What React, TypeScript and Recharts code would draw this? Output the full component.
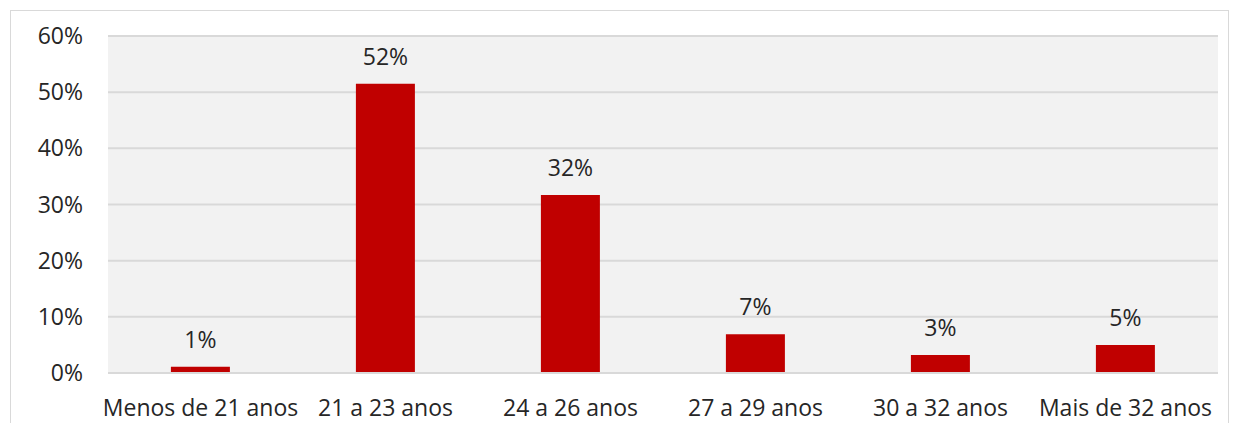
import React from 'react';
import { BarChart, Bar, XAxis, YAxis, CartesianGrid, LabelList } from 'recharts';

const categories = ['Menos de 21 anos', '21 a 23 anos', '24 a 26 anos', '27 a 29 anos', '30 a 32 anos', 'Mais de 32 anos'];
const shares = [1.1, 51.5, 31.7, 6.9, 3.2, 5.0];
const yTicks = [0, 10, 20, 30, 40, 50, 60];

const data = categories.map((name, i) => ({ name, value: shares[i] }));

const FONT = '"Open Sans", Lato, sans-serif';

const App: React.FC = () => {
  return (
    <div
      style={{
        position: 'absolute',
        left: 10,
        top: 10,
        width: 1217,
        height: 420,
        borderTop: '1px solid #d9d9d9',
        borderLeft: '1px solid #d9d9d9',
        borderRight: '1px solid #d9d9d9',
        background: '#fff',
        fontFamily: FONT,
      }}
    >
      <BarChart
        width={1217}
        height={420}
        data={data}
        margin={{ top: 25, right: 10, bottom: 10, left: 0 }}
        barCategoryGap="34%"
      >
        <CartesianGrid vertical={false} fill="#f2f2f2" stroke="#d9d9d9" strokeWidth={2} />
        <XAxis
          dataKey="name"
          height={48}
          axisLine={{ stroke: '#d9d9d9', strokeWidth: 2 }}
          tickLine={false}
          tickMargin={21}
          interval={0}
          tick={{ fill: '#262626', fontSize: 23, fontFamily: FONT }}
        />
        <YAxis
          width={97}
          domain={[0, 60]}
          ticks={yTicks}
          tickFormatter={(v: number) => `${v}%`}
          axisLine={false}
          tickLine={false}
          tickMargin={19}
          tick={{ fill: '#262626', fontSize: 23, fontFamily: FONT }}
        />
        <Bar dataKey="value" fill="#c00000" isAnimationActive={false}>
          <LabelList
            dataKey="value"
            position="top"
            offset={19}
            formatter={(v: number) => `${Math.round(v)}%`}
            style={{ fill: '#262626', fontSize: 23, fontFamily: FONT }}
          />
        </Bar>
      </BarChart>
    </div>
  );
};

export default App;
